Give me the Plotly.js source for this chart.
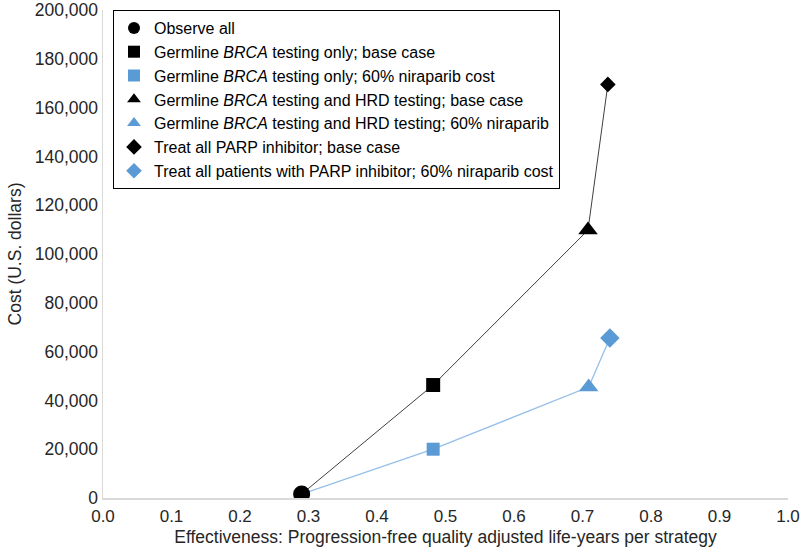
<!DOCTYPE html>
<html>
<head>
<meta charset="utf-8">
<script src="https://cdn.plot.ly/plotly-3.0.1.min.js"></script>
<style>html,body{margin:0;padding:0;background:#fff}#chart{width:800px;height:552px}</style>
</head>
<body>
<div id="chart"></div>
<script>
// Strategy names (legend)
const strategies = [
  "Observe all",
  "Germline <i>BRCA</i> testing only; base case",
  "Germline <i>BRCA</i> testing only; 60% niraparib cost",
  "Germline <i>BRCA</i> testing and HRD testing; base case",
  "Germline <i>BRCA</i> testing and HRD testing; 60% niraparib",
  "Treat all PARP inhibitor; base case",
  "Treat all patients with PARP inhibitor; 60% niraparib cost"
];
// Effectiveness (PF-QALYs) per strategy
const effectiveness = [0.290, 0.482, 0.482, 0.708, 0.709, 0.737, 0.740];
// Cost (USD) per strategy
const cost = [1600, 46300, 20000, 109800, 45500, 169500, 65600];
// Frontier paths (indices into the arrays above)
const baseCasePath = [0, 1, 3, 5];
const reducedCostPath = [0, 2, 4, 6];

const symbols = ["circle", "square", "square", "triangle-up", "triangle-up", "diamond", "diamond"];
const colors = ["#000000", "#000000", "#5B9BD5", "#000000", "#5B9BD5", "#000000", "#5B9BD5"];
const sizes = [17, 14, 13, 17, 17, 12, 15];

const traces = [];
traces.push({
  x: baseCasePath.map(i => effectiveness[i]),
  y: baseCasePath.map(i => cost[i]),
  mode: "lines", type: "scatter", showlegend: false, hoverinfo: "skip",
  line: {color: "#404040", width: 1}
});
traces.push({
  x: reducedCostPath.map(i => effectiveness[i]),
  y: reducedCostPath.map(i => cost[i]),
  mode: "lines", type: "scatter", showlegend: false, hoverinfo: "skip",
  line: {color: "#95BFE8", width: 1.3}
});
const order = [2, 4, 6, 1, 3, 5, 0];
const markerTraces = [];
for (let i = 0; i < strategies.length; i++) {
  markerTraces[i] = {
    x: [effectiveness[i]], y: [cost[i]],
    mode: "markers", type: "scatter", name: strategies[i],
    marker: {symbol: symbols[i], color: colors[i], size: sizes[i], line: {width: 0}},
    legendrank: i + 1
  };
}
order.forEach(i => traces.push(markerTraces[i]));

const txt = "#262626";
const layout = {
  width: 800, height: 552,
  margin: {l: 103, r: 12, t: 10, b: 54},
  paper_bgcolor: "#fff", plot_bgcolor: "#fff",
  font: {family: "Liberation Sans, Arial, sans-serif", size: 17, color: txt},
  xaxis: {
    range: [0, 1], dtick: 0.1, tickformat: ".1f",
    showgrid: false, zeroline: false,
    showline: true, linecolor: "#d9d9d9", linewidth: 1.5,
    ticks: "", tickfont: {size: 17, color: txt}, ticklabeloverflow: "allow",
    ticklabelstandoff: 2,
    title: {text: "Effectiveness: Progression-free quality adjusted life-years per strategy", font: {size: 17.5, color: txt}, standoff: 6}
  },
  yaxis: {
    range: [0, 200000], dtick: 20000, tickformat: ",d",
    showgrid: false, zeroline: false,
    showline: true, linecolor: "#d9d9d9", linewidth: 1.5,
    ticks: "", tickfont: {size: 17.5, color: txt},
    title: {text: "Cost (U.S. dollars)", font: {size: 17.5, color: txt}, standoff: 8}
  },
  legend: {
    x: 0.0146, y: 1.0, xanchor: "left", yanchor: "top",
    bgcolor: "#fff", bordercolor: "#000", borderwidth: 1,
    font: {size: 16, color: "#000"},
    traceorder: "normal", itemsizing: "constant", itemwidth: 30, tracegroupgap: 0
  },
  showlegend: true
};

Plotly.newPlot("chart", traces, layout, {displayModeBar: false, staticPlot: true});
</script>
</body>
</html>
